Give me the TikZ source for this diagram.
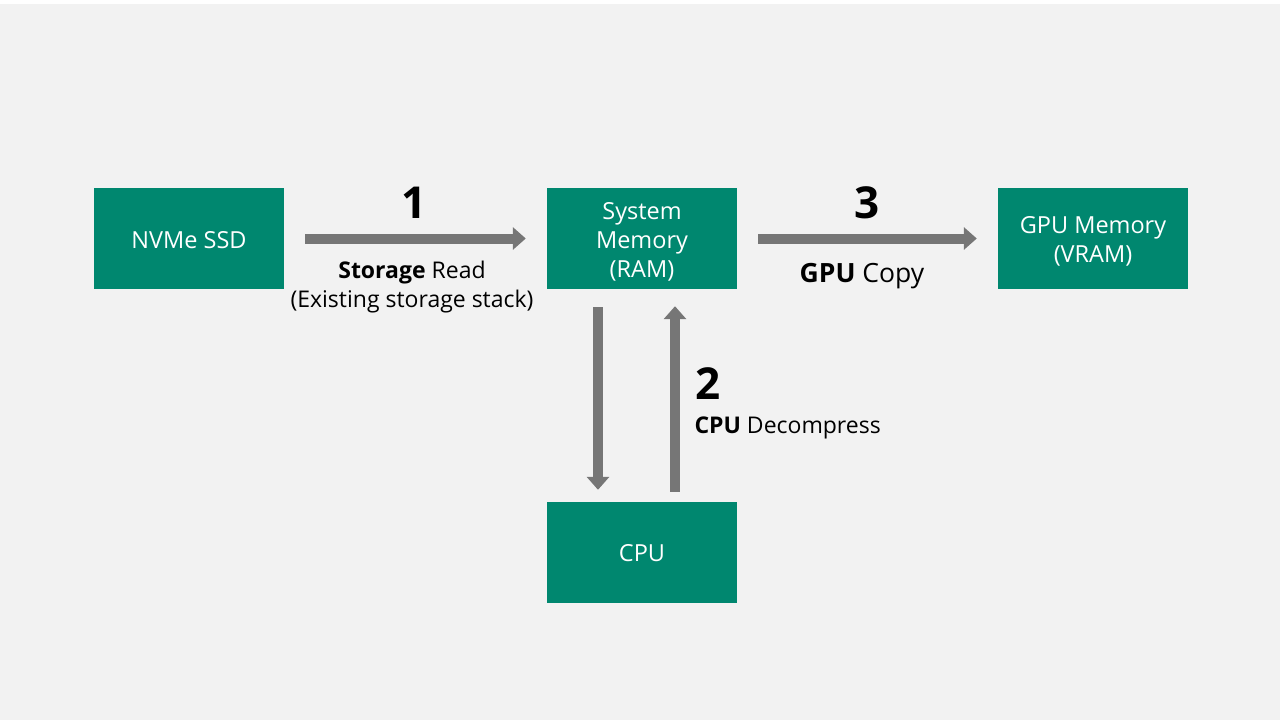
\documentclass[tikz,border=0pt]{standalone}
\usepackage{fontspec}
\setmainfont{Open Sans}
\usetikzlibrary{arrows.meta}
\definecolor{boxgreen}{HTML}{00876F}
\definecolor{arrowgray}{HTML}{767676}
\definecolor{bggray}{HTML}{F2F2F2}

\begin{document}
\begin{tikzpicture}[x=1pt,y=-1pt,
  box/.style={fill=boxgreen,minimum width=190pt,minimum height=101pt,inner sep=0pt},
  boxtext/.style={text=white,inner sep=0pt,align=center,font=\fontsize{23.5}{29}\selectfont},
  bigarrow/.style={draw=arrowgray,line width=10pt,-{Triangle[length=13pt,width=22pt]}},
  num/.style={font=\fontsize{44}{44}\selectfont\bfseries},
  lbl/.style={font=\fontsize{23}{29}\selectfont,align=center}]
\useasboundingbox (0,0) rectangle (1280,720);
\fill[white] (0,0) rectangle (1280,4); \fill[bggray] (0,4) rectangle (1280,720);
% the four units
\node[box] (ssd) at (189,238.5) {}; \node[boxtext] (ssdtxt) at ([yshift=-2pt]ssd) {NVMe SSD};
\node[box] (ram) at (642,238.5) {}; \node[boxtext] (ramtxt) at ([yshift=-3pt]ram) {System\\Memory\\(RAM)};
\node[box] (vram) at (1093,238.5) {}; \node[boxtext] (vramtxt) at ([yshift=-3pt]vram) {GPU Memory\\(VRAM)};
\node[box] (cpu) at (642,552.5) {}; \node[boxtext] (cputxt) at ([yshift=-1pt]cpu) {CPU};
% data path
\draw[bigarrow] ([xshift=21pt]ssd.east) -- ([xshift=-21pt]ram.west);
\draw[bigarrow] ([xshift=21pt]ram.east) -- ([xshift=-21pt]vram.west);
\draw[bigarrow] ([xshift=-44pt,yshift=-18pt]ram.south) -- ([xshift=-44pt,yshift=12pt]cpu.north);
\draw[bigarrow] ([xshift=33pt,yshift=10pt]cpu.north) -- ([xshift=33pt,yshift=-17pt]ram.south);
% step labels
\node[num] (one) at (414,203) {1};
\node[lbl] (readlbl) at (412,287) {\textbf{Storage} Read\\(Existing storage stack)};
\node[num] (three) at (867,203) {3};
\node[lbl,font=\fontsize{26.5}{30}\selectfont] (copylbl) at (862,276) {\textbf{GPU} Copy};
\node[num] (two) at (708,384) {2};
\node[lbl,anchor=west] (decomplbl) at (691,428) {\textbf{CPU} Decompress};
\end{tikzpicture}
\end{document}
